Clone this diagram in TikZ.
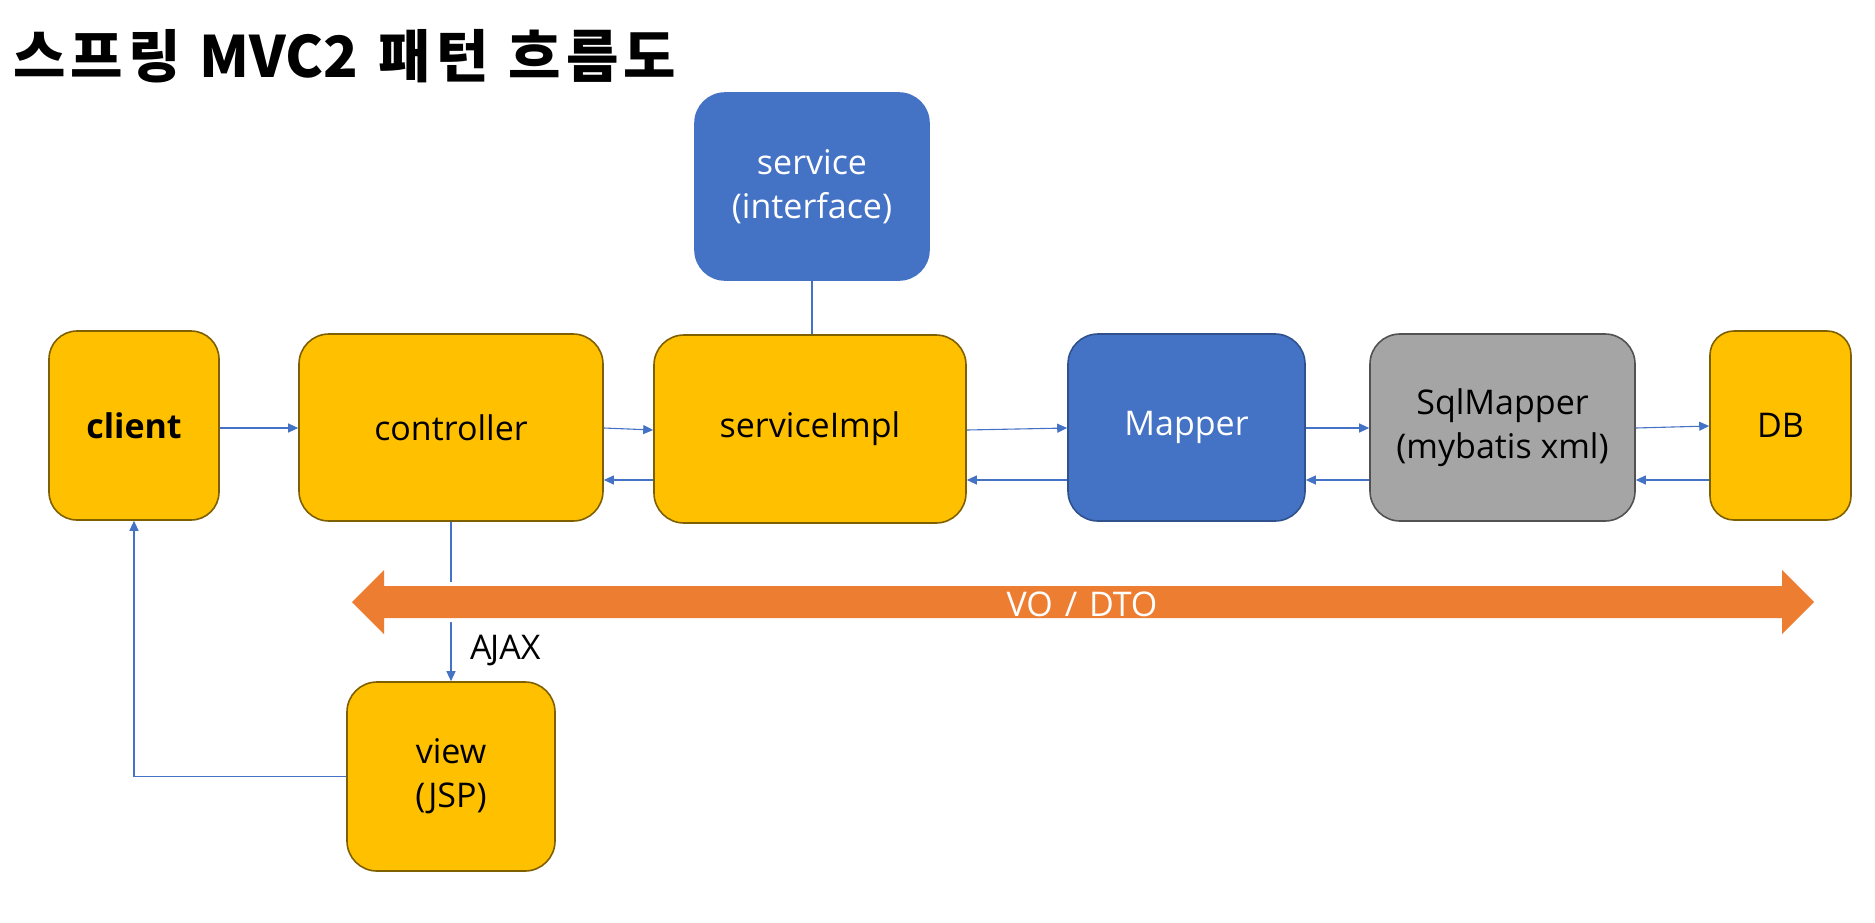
\documentclass[tikz,border=0pt]{standalone}
\usepackage{fontspec}
\setmainfont{Open Sans}
\newfontfamily\krfont{Noto Sans CJK KR}
\newcommand{\krls}{\addfontfeature{LetterSpace=9}}
\usetikzlibrary{arrows.meta}
\definecolor{ybox}{HTML}{FFC000}
\definecolor{yedge}{HTML}{7F6000}
\definecolor{bbox}{HTML}{4472C4}
\definecolor{bedge}{HTML}{2F528F}
\definecolor{gbox}{HTML}{A5A5A5}
\definecolor{gedge}{HTML}{525252}
\definecolor{obar}{HTML}{ED7D31}
\definecolor{conn}{HTML}{4472C4}
\tikzset{
  rbox/.style={rounded corners=30pt, line width=1.6pt, align=center, inner sep=0pt, font=\fontsize{34}{44}\selectfont},
  ybx/.style={rbox, fill=ybox, draw=yedge, text=black},
  bbx/.style={rbox, fill=bbox, draw=bedge, text=white},
  gbx/.style={rbox, fill=gbox, draw=gedge, text=black},
  conn/.style={draw=conn, line width=1.1pt},
  arr/.style={conn, -{Triangle[length=10pt,width=9pt]}},
  lbl/.style={inner sep=0pt, font=\fontsize{34}{40}\selectfont},
}
\begin{document}
\begin{tikzpicture}[x=1pt,y=-1pt]
\useasboundingbox (0,0) rectangle (1875,922);
\node[anchor=west, inner sep=0pt, font=\krfont\bfseries\fontsize{57}{64}\selectfont] (title) at (13,56) {{\krls 스프링}\hspace{6pt} MVC2\hspace{7pt} {\krls 패턴}\hspace{7pt} {\krls 흐름도}};

\node[bbx, draw=bbox, minimum width=234pt, minimum height=187pt] (service) at (812,186.5) {service\\(interface)};
\node[ybx, rounded corners=28pt, minimum width=170pt, minimum height=189pt, font=\bfseries\fontsize{34}{44}\selectfont] (client) at (134,425.5) {client};
\node[ybx, minimum width=304pt, minimum height=187pt] (controller) at (451,427.5) {controller};
\node[ybx, minimum width=312pt, minimum height=188pt] (impl) at (810,429) {serviceImpl};
\node[bbx, minimum width=237pt, minimum height=187pt] (mapper) at (1186.5,427.5) {Mapper};
\node[gbx, minimum width=265pt, minimum height=187pt] (sql) at (1502.5,427.5) {SqlMapper\\(mybatis xml)};
\node[ybx, rounded corners=24pt, minimum width=141pt, minimum height=189pt] (db) at (1780.5,425.5) {DB};
\node[ybx, minimum width=208pt, minimum height=189pt] (view) at (451,776.5) {view\\(JSP)};

% forward arrows
\draw[arr] (client.east |- 0,428) -- (controller.west |- 0,428);
\draw[arr] (controller.east |- 0,428) -- (impl.west |- 0,430);
\draw[arr] (impl.east |- 0,430) -- (mapper.west |- 0,428);
\draw[arr] (mapper.east |- 0,428) -- (sql.west |- 0,428);
\draw[arr] (sql.east |- 0,428) -- (db.west |- 0,426);
% backward arrows
\draw[arr] (impl.west |- 0,480) -- (controller.east |- 0,480);
\draw[arr] (mapper.west |- 0,480) -- (impl.east |- 0,480);
\draw[arr] (sql.west |- 0,480) -- (mapper.east |- 0,480);
\draw[arr] (db.west |- 0,480) -- (sql.east |- 0,480);

\draw[conn] (service.south) -- (service.south |- impl.north);
\draw[arr] (controller.south) -- (view.north);
\draw[arr] (view.west) -| (client.south);

% VO / DTO double arrow
\coordinate (la) at (352,602);
\coordinate (ra) at (1814,602);
\def\vopath{(la) -- ++(32,-32) -- ++(0,16) -- (1782,586) -- (1782,570) -- (ra) -- (1782,634) -- (1782,618) -- (384,618) -- (384,634) -- cycle}
\draw[white, line width=8pt, line join=miter] \vopath;
\fill[obar] \vopath;
\node[lbl, text=white] (vo) at (1082,604) {VO\hspace{3pt} /\hspace{3pt} DTO};

\node[lbl, anchor=west] (ajax) at (470,650) {A\kern-1.5pt JAX};
\end{tikzpicture}
\end{document}
